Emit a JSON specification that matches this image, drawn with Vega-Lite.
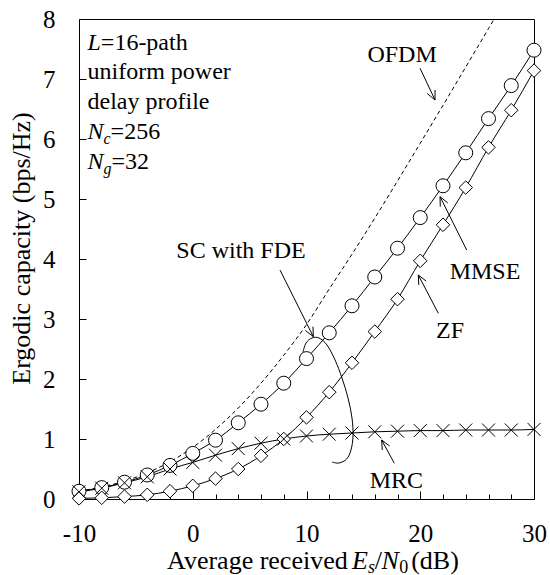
{
  "$schema": "https://vega.github.io/schema/vega-lite/v6.json",
  "width": 455,
  "height": 480,
  "autosize": {"type": "none"},
  "padding": {"left": 79, "top": 19, "right": 16, "bottom": 76},
  "background": "white",
  "config": {
    "font": "Liberation Serif",
    "view": {"stroke": "black", "strokeWidth": 1},
    "axis": {
      "grid": false,
      "domainColor": "black",
      "domainWidth": 1,
      "tickColor": "black",
      "tickWidth": 1,
      "tickSize": -6,
      "labelColor": "black",
      "labelFont": "Liberation Serif",
      "labelFontSize": 25,
      "labelFlush": false,
      "labelOverlap": false,
      "titleColor": "black",
      "titleFont": "Liberation Serif",
      "titleFontSize": 26,
      "titleFontWeight": "normal"
    },
    "text": {"font": "Liberation Serif", "color": "black"}
  },
  "resolve": {"axis": {"x": "independent"}},
  "datasets": {
    "ofdm": [
      {"snr": -10, "cap": 0.132}, {"snr": -8, "cap": 0.2}, {"snr": -6, "cap": 0.299},
      {"snr": -4, "cap": 0.436}, {"snr": -2, "cap": 0.621}, {"snr": 0, "cap": 0.86},
      {"snr": 2, "cap": 1.16}, {"snr": 4, "cap": 1.516}, {"snr": 6, "cap": 1.93},
      {"snr": 8, "cap": 2.396}, {"snr": 10, "cap": 2.907}, {"snr": 12, "cap": 3.5},
      {"snr": 14, "cap": 4.08}, {"snr": 16, "cap": 4.68}, {"snr": 18, "cap": 5.3},
      {"snr": 20, "cap": 5.93}, {"snr": 22, "cap": 6.56}, {"snr": 24, "cap": 7.2},
      {"snr": 26, "cap": 7.84}, {"snr": 26.5, "cap": 8.0}
    ],
    "curves": [
      {"series": "MMSE", "snr": -10, "cap": 0.13}, {"series": "MMSE", "snr": -8, "cap": 0.19},
      {"series": "MMSE", "snr": -6, "cap": 0.28}, {"series": "MMSE", "snr": -4, "cap": 0.4},
      {"series": "MMSE", "snr": -2, "cap": 0.56}, {"series": "MMSE", "snr": 0, "cap": 0.76},
      {"series": "MMSE", "snr": 2, "cap": 0.98}, {"series": "MMSE", "snr": 4, "cap": 1.27},
      {"series": "MMSE", "snr": 6, "cap": 1.58}, {"series": "MMSE", "snr": 8, "cap": 1.93},
      {"series": "MMSE", "snr": 10, "cap": 2.34}, {"series": "MMSE", "snr": 12, "cap": 2.77},
      {"series": "MMSE", "snr": 14, "cap": 3.22}, {"series": "MMSE", "snr": 16, "cap": 3.7},
      {"series": "MMSE", "snr": 18, "cap": 4.18}, {"series": "MMSE", "snr": 20, "cap": 4.69},
      {"series": "MMSE", "snr": 22, "cap": 5.22}, {"series": "MMSE", "snr": 24, "cap": 5.77},
      {"series": "MMSE", "snr": 26, "cap": 6.34}, {"series": "MMSE", "snr": 28, "cap": 6.89},
      {"series": "MMSE", "snr": 30, "cap": 7.48},
      {"series": "ZF", "snr": -10, "cap": 0.01}, {"series": "ZF", "snr": -8, "cap": 0.02},
      {"series": "ZF", "snr": -6, "cap": 0.04}, {"series": "ZF", "snr": -4, "cap": 0.07},
      {"series": "ZF", "snr": -2, "cap": 0.13}, {"series": "ZF", "snr": 0, "cap": 0.22},
      {"series": "ZF", "snr": 2, "cap": 0.34}, {"series": "ZF", "snr": 4, "cap": 0.5},
      {"series": "ZF", "snr": 6, "cap": 0.72}, {"series": "ZF", "snr": 8, "cap": 1.0},
      {"series": "ZF", "snr": 10, "cap": 1.36}, {"series": "ZF", "snr": 12, "cap": 1.78},
      {"series": "ZF", "snr": 14, "cap": 2.27}, {"series": "ZF", "snr": 16, "cap": 2.79},
      {"series": "ZF", "snr": 18, "cap": 3.33}, {"series": "ZF", "snr": 20, "cap": 3.97},
      {"series": "ZF", "snr": 22, "cap": 4.57}, {"series": "ZF", "snr": 24, "cap": 5.19},
      {"series": "ZF", "snr": 26, "cap": 5.86}, {"series": "ZF", "snr": 28, "cap": 6.48},
      {"series": "ZF", "snr": 30, "cap": 7.14},
      {"series": "MRC", "snr": -10, "cap": 0.12}, {"series": "MRC", "snr": -8, "cap": 0.18},
      {"series": "MRC", "snr": -6, "cap": 0.27}, {"series": "MRC", "snr": -4, "cap": 0.37},
      {"series": "MRC", "snr": -2, "cap": 0.5}, {"series": "MRC", "snr": 0, "cap": 0.61},
      {"series": "MRC", "snr": 2, "cap": 0.73}, {"series": "MRC", "snr": 4, "cap": 0.84},
      {"series": "MRC", "snr": 6, "cap": 0.93}, {"series": "MRC", "snr": 8, "cap": 1.0},
      {"series": "MRC", "snr": 10, "cap": 1.05}, {"series": "MRC", "snr": 12, "cap": 1.08},
      {"series": "MRC", "snr": 14, "cap": 1.1}, {"series": "MRC", "snr": 16, "cap": 1.12},
      {"series": "MRC", "snr": 18, "cap": 1.13}, {"series": "MRC", "snr": 20, "cap": 1.14},
      {"series": "MRC", "snr": 22, "cap": 1.14}, {"series": "MRC", "snr": 24, "cap": 1.15},
      {"series": "MRC", "snr": 26, "cap": 1.15}, {"series": "MRC", "snr": 28, "cap": 1.15},
      {"series": "MRC", "snr": 30, "cap": 1.16}
    ],
    "ring": [
      {"i": 1, "snr": 9.69, "cap": 2.45}, {"i": 2, "snr": 9.96, "cap": 2.6},
      {"i": 3, "snr": 10.48, "cap": 2.683}, {"i": 4, "snr": 11.1, "cap": 2.683},
      {"i": 5, "snr": 11.8, "cap": 2.567}, {"i": 6, "snr": 12.51, "cap": 2.317},
      {"i": 7, "snr": 13.12, "cap": 2.017}, {"i": 8, "snr": 13.65, "cap": 1.683},
      {"i": 9, "snr": 14.0, "cap": 1.35}, {"i": 10, "snr": 14.09, "cap": 1.05},
      {"i": 11, "snr": 13.91, "cap": 0.817}, {"i": 12, "snr": 13.53, "cap": 0.667},
      {"i": 13, "snr": 12.86, "cap": 0.6}, {"i": 14, "snr": 12.24, "cap": 0.617}
    ],
    "arrows": [
      {"x0": 19.98, "y0": 7.18, "x1": 21.3, "y1": 6.65},
      {"x0": 21.3, "y0": 6.65, "x1": 21.3, "y1": 6.817},
      {"x0": 21.3, "y0": 6.65, "x1": 20.62, "y1": 6.757},
      {"x0": 7.67, "y0": 3.817, "x1": 10.6, "y1": 2.705},
      {"x0": 10.6, "y0": 2.705, "x1": 10.57, "y1": 2.872},
      {"x0": 10.6, "y0": 2.705, "x1": 9.91, "y1": 2.808},
      {"x0": 24.08, "y0": 4.15, "x1": 21.74, "y1": 5.038},
      {"x0": 21.74, "y0": 5.038, "x1": 21.76, "y1": 4.872},
      {"x0": 21.74, "y0": 5.038, "x1": 22.42, "y1": 4.935},
      {"x0": 21.59, "y0": 3.095, "x1": 19.83, "y1": 3.733},
      {"x0": 19.83, "y0": 3.733, "x1": 19.87, "y1": 3.567},
      {"x0": 19.83, "y0": 3.733, "x1": 20.52, "y1": 3.632},
      {"x0": 17.72, "y0": 0.595, "x1": 16.61, "y1": 0.983},
      {"x0": 16.61, "y0": 0.983, "x1": 16.66, "y1": 0.817},
      {"x0": 16.61, "y0": 0.983, "x1": 17.31, "y1": 0.883}
    ],
    "callouts": [
      {"t": "OFDM", "snr": 18.4, "cap": 7.4},
      {"t": "SC with FDE", "snr": 4.24, "cap": 4.13},
      {"t": "MMSE", "snr": 25.69, "cap": 3.78},
      {"t": "ZF", "snr": 22.62, "cap": 2.8},
      {"t": "MRC", "snr": 17.9, "cap": 0.3}
    ],
    "insetRoman": [
      {"t": "=16-path", "snr": -8.08, "cap": 7.48},
      {"t": "uniform power", "snr": -9.25, "cap": 7.0},
      {"t": "delay profile", "snr": -9.25, "cap": 6.5},
      {"t": "=256", "snr": -7.22, "cap": 6.0},
      {"t": "=32", "snr": -7.14, "cap": 5.5}
    ],
    "insetItalic": [
      {"t": "L", "snr": -9.25, "cap": 7.48},
      {"t": "N", "snr": -9.25, "cap": 6.0},
      {"t": "N", "snr": -9.25, "cap": 5.5}
    ],
    "insetSub": [
      {"t": "c", "snr": -7.84, "cap": 5.917},
      {"t": "g", "snr": -7.84, "cap": 5.417}
    ],
    "xTitleRoman": [
      {"t": "Average received", "snr": -2.26, "cap": -1.16},
      {"t": "/", "snr": 16.0, "cap": -1.16},
      {"t": "(dB)", "snr": 19.2, "cap": -1.16}
    ],
    "xTitleItalic": [
      {"t": "E", "snr": 14.0, "cap": -1.16},
      {"t": "N", "snr": 16.6, "cap": -1.16}
    ],
    "xTitleSubItalic": [
      {"t": "s", "snr": 15.4, "cap": -1.225}
    ],
    "xTitleSubRoman": [
      {"t": "0", "snr": 18.15, "cap": -1.225}
    ]
  },
  "layer": [
    {
      "data": {"name": "ofdm"},
      "mark": {"type": "line", "stroke": "black", "strokeWidth": 1, "strokeDash": [4, 3], "interpolate": "monotone"},
      "encoding": {
        "x": {
          "field": "snr", "type": "quantitative",
          "scale": {"domain": [-10, 30], "nice": false, "zero": false},
          "axis": {
            "orient": "bottom",
            "values": [-10, 0, 10, 20, 30],
            "labelExpr": "'' + datum.value",
            "tickSize": -8,
            "labelPadding": 30,
            "title": null
          }
        },
        "y": {
          "field": "cap", "type": "quantitative",
          "scale": {"domain": [0, 8], "nice": false, "zero": false},
          "axis": {
            "values": [0, 1, 2, 3, 4, 5, 6, 7, 8],
            "labelExpr": "'' + datum.value",
            "tickSize": -7,
            "labelPadding": 31,
            "title": "Ergodic capacity (bps/Hz)",
            "titleX": -58, "titleY": 229, "titleAngle": -90,
            "titleAlign": "center", "titleBaseline": "middle"
          }
        }
      }
    },
    {
      "data": {"name": "curves"},
      "mark": {"type": "line", "stroke": "black", "strokeWidth": 1, "interpolate": "monotone"},
      "encoding": {
        "x": {
          "field": "snr", "type": "quantitative",
          "axis": {
            "orient": "bottom",
            "values": [-8, -6, -4, -2, 2, 4, 6, 8, 12, 14, 16, 18, 22, 24, 26, 28],
            "tickSize": -5,
            "labels": false,
            "domain": false,
            "title": null
          }
        },
        "y": {"field": "cap", "type": "quantitative"},
        "detail": {"field": "series"}
      }
    },
    {
      "data": {"name": "ring"},
      "mark": {"type": "line", "stroke": "black", "strokeWidth": 1, "interpolate": "cardinal"},
      "encoding": {
        "x": {"field": "snr", "type": "quantitative", "axis": null},
        "y": {"field": "cap", "type": "quantitative"},
        "order": {"field": "i", "type": "quantitative"}
      }
    },
    {
      "data": {"name": "curves"},
      "mark": {"type": "point", "filled": true, "fill": "white", "stroke": "black", "strokeWidth": 1, "opacity": 1, "fillOpacity": 1},
      "encoding": {
        "x": {"field": "snr", "type": "quantitative", "axis": null},
        "y": {"field": "cap", "type": "quantitative"},
        "shape": {
          "field": "series", "type": "nominal", "legend": null,
          "scale": {"domain": ["MMSE", "ZF", "MRC"], "range": ["circle", "diamond", "M-1,-1L1,1M-1,1L1,-1"]}
        },
        "size": {
          "field": "series", "type": "nominal", "legend": null,
          "scale": {"domain": ["MMSE", "ZF", "MRC"], "range": [196, 169, 196]}
        }
      }
    },
    {
      "data": {"name": "arrows"},
      "mark": {"type": "rule", "stroke": "black", "strokeWidth": 1},
      "encoding": {
        "x": {"field": "x0", "type": "quantitative", "axis": null},
        "y": {"field": "y0", "type": "quantitative"},
        "x2": {"field": "x1"},
        "y2": {"field": "y1"}
      }
    },
    {
      "data": {"name": "callouts"},
      "mark": {"type": "text", "fontSize": 24, "align": "center", "baseline": "middle"},
      "encoding": {
        "x": {"field": "snr", "type": "quantitative", "axis": null},
        "y": {"field": "cap", "type": "quantitative"},
        "text": {"field": "t"}
      }
    },
    {
      "data": {"name": "insetRoman"},
      "mark": {"type": "text", "fontSize": 24, "align": "left", "baseline": "alphabetic"},
      "encoding": {
        "x": {"field": "snr", "type": "quantitative", "axis": null},
        "y": {"field": "cap", "type": "quantitative"},
        "text": {"field": "t"}
      }
    },
    {
      "data": {"name": "insetItalic"},
      "mark": {"type": "text", "fontSize": 24, "fontStyle": "italic", "align": "left", "baseline": "alphabetic"},
      "encoding": {
        "x": {"field": "snr", "type": "quantitative", "axis": null},
        "y": {"field": "cap", "type": "quantitative"},
        "text": {"field": "t"}
      }
    },
    {
      "data": {"name": "insetSub"},
      "mark": {"type": "text", "fontSize": 16, "fontStyle": "italic", "align": "left", "baseline": "alphabetic"},
      "encoding": {
        "x": {"field": "snr", "type": "quantitative", "axis": null},
        "y": {"field": "cap", "type": "quantitative"},
        "text": {"field": "t"}
      }
    },
    {
      "data": {"name": "xTitleRoman"},
      "mark": {"type": "text", "fontSize": 26, "align": "left", "baseline": "alphabetic"},
      "encoding": {
        "x": {"field": "snr", "type": "quantitative", "axis": null},
        "y": {"field": "cap", "type": "quantitative"},
        "text": {"field": "t"}
      }
    },
    {
      "data": {"name": "xTitleItalic"},
      "mark": {"type": "text", "fontSize": 26, "fontStyle": "italic", "align": "left", "baseline": "alphabetic"},
      "encoding": {
        "x": {"field": "snr", "type": "quantitative", "axis": null},
        "y": {"field": "cap", "type": "quantitative"},
        "text": {"field": "t"}
      }
    },
    {
      "data": {"name": "xTitleSubItalic"},
      "mark": {"type": "text", "fontSize": 18, "fontStyle": "italic", "align": "left", "baseline": "alphabetic"},
      "encoding": {
        "x": {"field": "snr", "type": "quantitative", "axis": null},
        "y": {"field": "cap", "type": "quantitative"},
        "text": {"field": "t"}
      }
    },
    {
      "data": {"name": "xTitleSubRoman"},
      "mark": {"type": "text", "fontSize": 18, "align": "left", "baseline": "alphabetic"},
      "encoding": {
        "x": {"field": "snr", "type": "quantitative", "axis": null},
        "y": {"field": "cap", "type": "quantitative"},
        "text": {"field": "t"}
      }
    }
  ]
}
